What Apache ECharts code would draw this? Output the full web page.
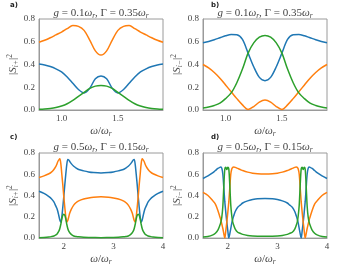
<!DOCTYPE html>
<html><head><meta charset="utf-8">
<script src="https://cdn.jsdelivr.net/npm/echarts@6/dist/echarts.min.js"></script>
<style>html,body{margin:0;padding:0;background:#fff}#c{width:356px;height:267px}</style>
</head><body><div id="c"></div>
<script>
// ---- data ----
const xAB = [0.80,0.85,0.90,0.95,1.00,1.05,1.10,1.15,1.20,1.25,1.30,1.35,1.40,1.45,1.50,1.55,1.60,1.65,1.70,1.75,1.80,1.85,1.90];
const blueA   = [0.404,0.396,0.382,0.362,0.335,0.29,0.235,0.18,0.15,0.19,0.275,0.30,0.275,0.19,0.15,0.18,0.235,0.29,0.335,0.362,0.382,0.396,0.404];
const orangeA = [0.595,0.613,0.635,0.66,0.685,0.715,0.742,0.735,0.70,0.615,0.52,0.483,0.52,0.615,0.70,0.735,0.742,0.715,0.685,0.66,0.635,0.613,0.595];
const greenA  = [0.006,0.009,0.014,0.022,0.035,0.055,0.085,0.12,0.155,0.19,0.21,0.215,0.21,0.19,0.155,0.12,0.085,0.055,0.035,0.022,0.014,0.009,0.006];
const blueB   = [0.592,0.603,0.618,0.635,0.652,0.664,0.662,0.62,0.50,0.38,0.287,0.258,0.287,0.38,0.50,0.62,0.662,0.664,0.652,0.635,0.618,0.603,0.592];
const orangeB = [0.40,0.37,0.33,0.28,0.22,0.16,0.10,0.045,0.005,0.03,0.07,0.088,0.07,0.03,0.005,0.045,0.10,0.16,0.22,0.28,0.33,0.37,0.40];
const greenB  = [0.018,0.027,0.04,0.06,0.1,0.15,0.24,0.36,0.50,0.59,0.64,0.655,0.64,0.59,0.50,0.36,0.24,0.15,0.1,0.06,0.04,0.027,0.018];

const xCD = [1.5,1.6,1.7,1.75,1.8,1.84,1.86,1.88,1.9,1.92,1.94,1.96,1.98,2.0,2.02,2.04,2.06,2.08,2.1,2.12,2.15,2.2,2.25,2.3,2.4,2.5,2.6,2.75,
             2.9,3.0,3.1,3.2,3.25,3.3,3.35,3.38,3.4,3.42,3.44,3.46,3.48,3.5,3.52,3.54,3.56,3.58,3.6,3.62,3.64,3.66,3.7,3.75,3.8,3.9,4.0];
const blueC   = [0.44,0.42,0.39,0.37,0.34,0.30,0.28,0.25,0.21,0.17,0.148,0.2,0.29,0.39,0.5,0.6,0.69,0.74,0.735,0.72,0.70,0.675,0.658,0.645,0.632,0.622,0.616,0.612,
                 0.616,0.622,0.632,0.645,0.658,0.675,0.70,0.72,0.735,0.74,0.69,0.6,0.5,0.39,0.29,0.2,0.148,0.17,0.21,0.25,0.28,0.30,0.34,0.37,0.39,0.42,0.44];
const orangeC = [0.57,0.585,0.605,0.62,0.645,0.675,0.695,0.72,0.735,0.745,0.70,0.60,0.50,0.39,0.29,0.2,0.15,0.165,0.2,0.235,0.27,0.31,0.335,0.35,0.367,0.378,0.385,0.388,
                 0.385,0.378,0.367,0.35,0.335,0.31,0.27,0.235,0.2,0.165,0.15,0.2,0.29,0.39,0.50,0.60,0.70,0.745,0.735,0.72,0.695,0.675,0.645,0.62,0.605,0.585,0.57];
const greenC  = [0.004,0.006,0.01,0.014,0.02,0.03,0.037,0.05,0.065,0.09,0.13,0.18,0.215,0.225,0.215,0.18,0.13,0.09,0.065,0.05,0.035,0.02,0.015,0.012,0.008,0.006,0.005,0.004,
                 0.005,0.006,0.008,0.012,0.015,0.02,0.035,0.05,0.065,0.09,0.13,0.18,0.215,0.225,0.215,0.18,0.13,0.09,0.065,0.05,0.037,0.03,0.02,0.014,0.01,0.006,0.004];
const blueD   = [0.56,0.585,0.615,0.635,0.655,0.665,0.668,0.655,0.6,0.47,0.34,0.24,0.15,0.07,0.0,0.04,0.09,0.14,0.18,0.21,0.25,0.29,0.31,0.33,0.35,0.362,0.37,0.373,
                 0.37,0.362,0.35,0.33,0.31,0.29,0.25,0.21,0.18,0.14,0.09,0.04,0.0,0.07,0.15,0.24,0.34,0.47,0.6,0.655,0.668,0.665,0.655,0.635,0.615,0.585,0.56];
const orangeD = [0.43,0.40,0.35,0.32,0.26,0.2,0.17,0.13,0.09,0.04,0.0,0.07,0.15,0.24,0.34,0.47,0.6,0.65,0.665,0.668,0.665,0.655,0.645,0.635,0.62,0.61,0.605,0.603,
                 0.605,0.61,0.62,0.635,0.645,0.655,0.665,0.668,0.665,0.65,0.6,0.47,0.34,0.24,0.15,0.07,0.0,0.04,0.09,0.13,0.17,0.2,0.26,0.32,0.35,0.40,0.43];
const greenD  = [0.01,0.015,0.03,0.045,0.075,0.12,0.15,0.2,0.3,0.49,0.65,0.665,0.645,0.665,0.65,0.5,0.31,0.21,0.15,0.12,0.085,0.055,0.045,0.035,0.025,0.02,0.018,0.017,
                 0.018,0.02,0.025,0.035,0.045,0.055,0.085,0.12,0.15,0.21,0.31,0.5,0.65,0.665,0.645,0.665,0.65,0.49,0.3,0.2,0.15,0.12,0.075,0.045,0.03,0.015,0.01];

const xTicksAB = [1.0, 1.5];
const xTicksCD = [2, 3, 4];
const yTicks = [0.0, 0.2, 0.4, 0.6, 0.8];
const titles = ['{i|g} = 0.1{i|ω}{s|r}, Γ = 0.35{i|ω}{s|r}', '{i|g} = 0.1{i|ω}{s|r}, Γ = 0.35{i|ω}{s|r}',
                '{i|g} = 0.5{i|ω}{s|r}, Γ = 0.15{i|ω}{s|r}', '{i|g} = 0.5{i|ω}{s|r}, Γ = 0.15{i|ω}{s|r}'];
const yNames = ['|{i|S}{s|i+}|{p|2}', '|{i|S}{s|i−}|{p|2}', '|{i|S}{s|i+}|{p|2}', '|{i|S}{s|i−}|{p|2}'];
const panelLabels = ['a)', 'b)', 'c)', 'd)'];

// ---- layout ----
const SERIF = 'Liberation Serif';
const AX = '#9a9a9a', TXT = '#444';
const grids = [
  {left: 39, top: 19, width: 124, height: 91},
  {left: 203, top: 19, width: 124, height: 91},
  {left: 39, top: 153, width: 124, height: 90},
  {left: 203, top: 153, width: 124, height: 90}
];
const richMath = {
  i: {fontStyle: 'italic', fontFamily: SERIF, fontSize: 11, lineHeight: 14, color: TXT},
  s: {fontStyle: 'italic', fontFamily: SERIF, fontSize: 7.5, lineHeight: 8, verticalAlign: 'bottom', color: TXT},
  p: {fontFamily: SERIF, fontSize: 7.5, lineHeight: 8, verticalAlign: 'top', color: TXT}
};
const xs = [xAB, xAB, xCD, xCD];
const ranges = [[0.8, 1.9], [0.8, 1.9], [1.5, 4], [1.5, 4]];
const xt = [xTicksAB, xTicksAB, xTicksCD, xTicksCD];
const blues = [blueA, blueB, blueC, blueD];
const oranges = [orangeA, orangeB, orangeC, orangeD];
const greens = [greenA, greenB, greenC, greenD];

const xAxis = [], yAxis = [], series = [], graphic = [];
for (let k = 0; k < 4; k++) {
  xAxis.push({
    type: 'value', gridIndex: k, min: ranges[k][0], max: ranges[k][1],
    axisLine: {show: true, lineStyle: {color: AX, width: 1}},
    axisTick: {show: false},
    splitLine: {show: false},
    axisLabel: {customValues: xt[k], fontFamily: SERIF, fontSize: 9, color: TXT, margin: 4,
      formatter: v => (k < 2 ? v.toFixed(1) : String(Math.round(v)))},
    name: '{i|ω}/{i|ω}{s|r}', nameLocation: 'middle', nameGap: 11,
    nameTextStyle: {fontFamily: SERIF, fontSize: 11, lineHeight: 14, color: TXT, rich: richMath}
  });
  yAxis.push({
    type: 'value', gridIndex: k, min: 0, max: 0.8, interval: 0.2,
    axisLine: {show: true, lineStyle: {color: AX, width: 1}},
    axisTick: {show: false},
    splitLine: {show: false},
    axisLabel: {fontFamily: SERIF, fontSize: 9, color: TXT, margin: 4, formatter: v => v.toFixed(1)},
    name: yNames[k], nameLocation: 'middle', nameRotate: 90, nameGap: 16,
    nameTextStyle: {fontFamily: SERIF, fontSize: 11, lineHeight: 14, color: TXT, rich: richMath}
  });
  const mk = (arr, color) => ({
    type: 'line', xAxisIndex: k, yAxisIndex: k, showSymbol: false, smooth: 0.3,
    lineStyle: {color: color, width: 1.5}, itemStyle: {color: color},
    data: xs[k].map((x, i) => [x, arr[i]])
  });
  series.push(mk(blues[k], '#1f77b4'), mk(oranges[k], '#ff7f0e'), mk(greens[k], '#2ca02c'));
  const g = grids[k];
  graphic.push({
    type: 'text', x: g.left + g.width / 2, y: g.top - 6,
    style: {text: titles[k], fontFamily: SERIF, fontSize: 11, lineHeight: 14, fill: TXT,
      align: 'center', verticalAlign: 'middle', rich: richMath}
  });
  graphic.push({
    type: 'text', x: k % 2 === 0 ? 10 : 211, y: k < 2 ? 5 : 137,
    style: {text: panelLabels[k], fontFamily: 'DejaVu Sans', fontWeight: 'bold', fontSize: 7, fill: '#222',
      align: 'left', verticalAlign: 'middle'}
  });
}

const chart = echarts.init(document.getElementById('c'), null, {renderer: 'canvas'});
chart.setOption({
  animation: false,
  grid: grids.map(g => Object.assign({show: true, borderColor: AX, borderWidth: 1, backgroundColor: 'transparent'}, g)),
  xAxis, yAxis, series, graphic
});
</script></body></html>
